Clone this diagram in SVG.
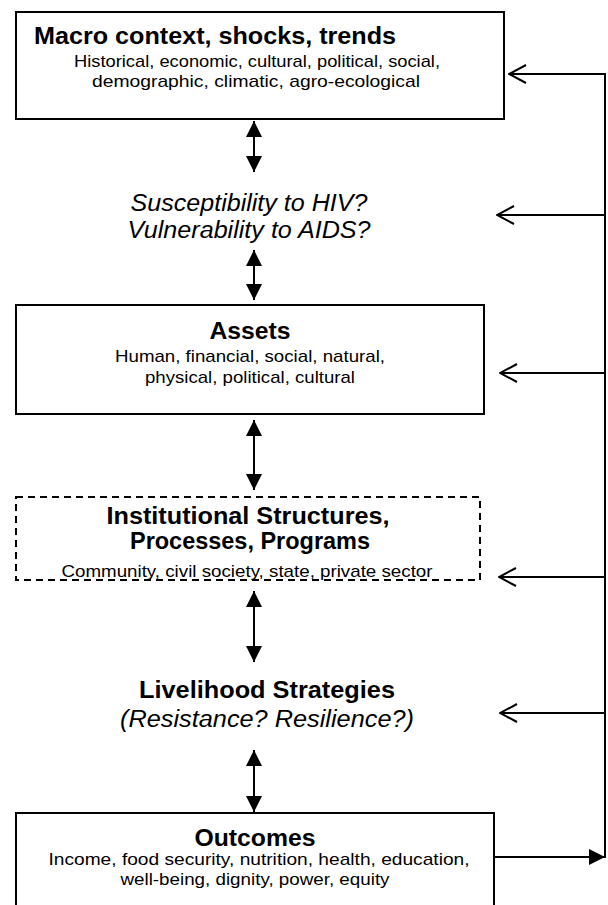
<svg xmlns="http://www.w3.org/2000/svg" width="608" height="905" viewBox="0 0 608 905">
<defs>
<marker id="fh" viewBox="0 0 10 10" refX="10" refY="5" markerWidth="16" markerHeight="16" markerUnits="userSpaceOnUse" orient="auto-start-reverse"><path d="M0,0 L10,5 L0,10 Z" fill="#000"/></marker>
<marker id="oh" viewBox="0 0 20 20" refX="19" refY="10" markerWidth="20" markerHeight="20" markerUnits="userSpaceOnUse" orient="auto"><path d="M2,1 L19,10 L2,19" fill="none" stroke="#000" stroke-width="2"/></marker>
<clipPath id="instclip"><rect x="16" y="497" width="464" height="83"/></clipPath>
<style>
.box{fill:#fff;stroke:#000;stroke-width:2}
.dash{fill:none;stroke:#000;stroke-width:2;stroke-dasharray:7,5}
.t{font-family:"Liberation Sans",Arial,sans-serif;fill:#000}
.h{font-size:23px;font-weight:bold}
.s{font-size:17px}
.i{font-size:23px;font-style:italic}
.c{text-anchor:middle}
.ln{stroke:#000;stroke-width:2;fill:none}
</style>
</defs>
<g id="macro">
<rect class="box" x="16" y="12" width="488" height="107"/>
<text class="t h" x="34" y="44" textLength="362" lengthAdjust="spacingAndGlyphs">Macro context, shocks, trends</text>
<text class="t s c" x="257" y="67" textLength="366" lengthAdjust="spacingAndGlyphs">Historical, economic, cultural, political, social,</text>
<text class="t s c" x="256" y="87" textLength="328" lengthAdjust="spacingAndGlyphs">demographic, climatic, agro-ecological</text>
</g>
<g id="susceptibility">
<text class="t i c" x="249" y="211" textLength="237" lengthAdjust="spacingAndGlyphs">Susceptibility to HIV?</text>
<text class="t i c" x="249" y="238" textLength="243" lengthAdjust="spacingAndGlyphs">Vulnerability to AIDS?</text>
</g>
<g id="assets">
<rect class="box" x="16" y="305" width="468" height="109"/>
<text class="t h c" x="250" y="339" textLength="81" lengthAdjust="spacingAndGlyphs">Assets</text>
<text class="t s c" x="250" y="362" textLength="270" lengthAdjust="spacingAndGlyphs">Human, financial, social, natural,</text>
<text class="t s c" x="250" y="383" textLength="210" lengthAdjust="spacingAndGlyphs">physical, political, cultural</text>
</g>
<g id="institutional">
<rect x="16" y="497" width="464" height="83" fill="#fff"/>
<text class="t h c" x="248" y="524" textLength="283" lengthAdjust="spacingAndGlyphs">Institutional Structures,</text>
<text class="t h c" x="250" y="549" textLength="240" lengthAdjust="spacingAndGlyphs">Processes, Programs</text>
<text class="t s c" x="247" y="577" textLength="371" lengthAdjust="spacingAndGlyphs" clip-path="url(#instclip)">Community, civil society, state, private sector</text>
<rect class="dash" x="16" y="497" width="464" height="83"/>
</g>
<g id="livelihood">
<text class="t h c" x="267" y="698" textLength="256" lengthAdjust="spacingAndGlyphs">Livelihood Strategies</text>
<text class="t i c" x="267" y="727" textLength="294" lengthAdjust="spacingAndGlyphs">(Resistance? Resilience?)</text>
</g>
<g id="outcomes">
<rect class="box" x="16" y="813" width="478" height="120"/>
<text class="t h c" x="255" y="846" textLength="121" lengthAdjust="spacingAndGlyphs">Outcomes</text>
<text class="t s c" x="259" y="865" textLength="421" lengthAdjust="spacingAndGlyphs">Income, food security, nutrition, health, education,</text>
<text class="t s c" x="255" y="885" textLength="269" lengthAdjust="spacingAndGlyphs">well-being, dignity, power, equity</text>
</g>
<g id="connectors">
<line class="ln" x1="254" y1="121" x2="254" y2="172" marker-start="url(#fh)" marker-end="url(#fh)"/>
<line class="ln" x1="254" y1="250" x2="254" y2="300" marker-start="url(#fh)" marker-end="url(#fh)"/>
<line class="ln" x1="254" y1="420" x2="254" y2="490" marker-start="url(#fh)" marker-end="url(#fh)"/>
<line class="ln" x1="254" y1="591" x2="254" y2="662" marker-start="url(#fh)" marker-end="url(#fh)"/>
<line class="ln" x1="254" y1="750" x2="254" y2="812" marker-start="url(#fh)" marker-end="url(#fh)"/>
<line class="ln" x1="494" y1="857" x2="605" y2="857" marker-end="url(#fh)"/>
<line class="ln" x1="605" y1="73" x2="605" y2="858"/>
<line class="ln" x1="605" y1="74" x2="509" y2="74" marker-end="url(#oh)"/>
<line class="ln" x1="605" y1="215" x2="497" y2="215" marker-end="url(#oh)"/>
<line class="ln" x1="605" y1="373" x2="500" y2="373" marker-end="url(#oh)"/>
<line class="ln" x1="605" y1="577" x2="499" y2="577" marker-end="url(#oh)"/>
<line class="ln" x1="605" y1="713" x2="500" y2="713" marker-end="url(#oh)"/>
</g>
</svg>
